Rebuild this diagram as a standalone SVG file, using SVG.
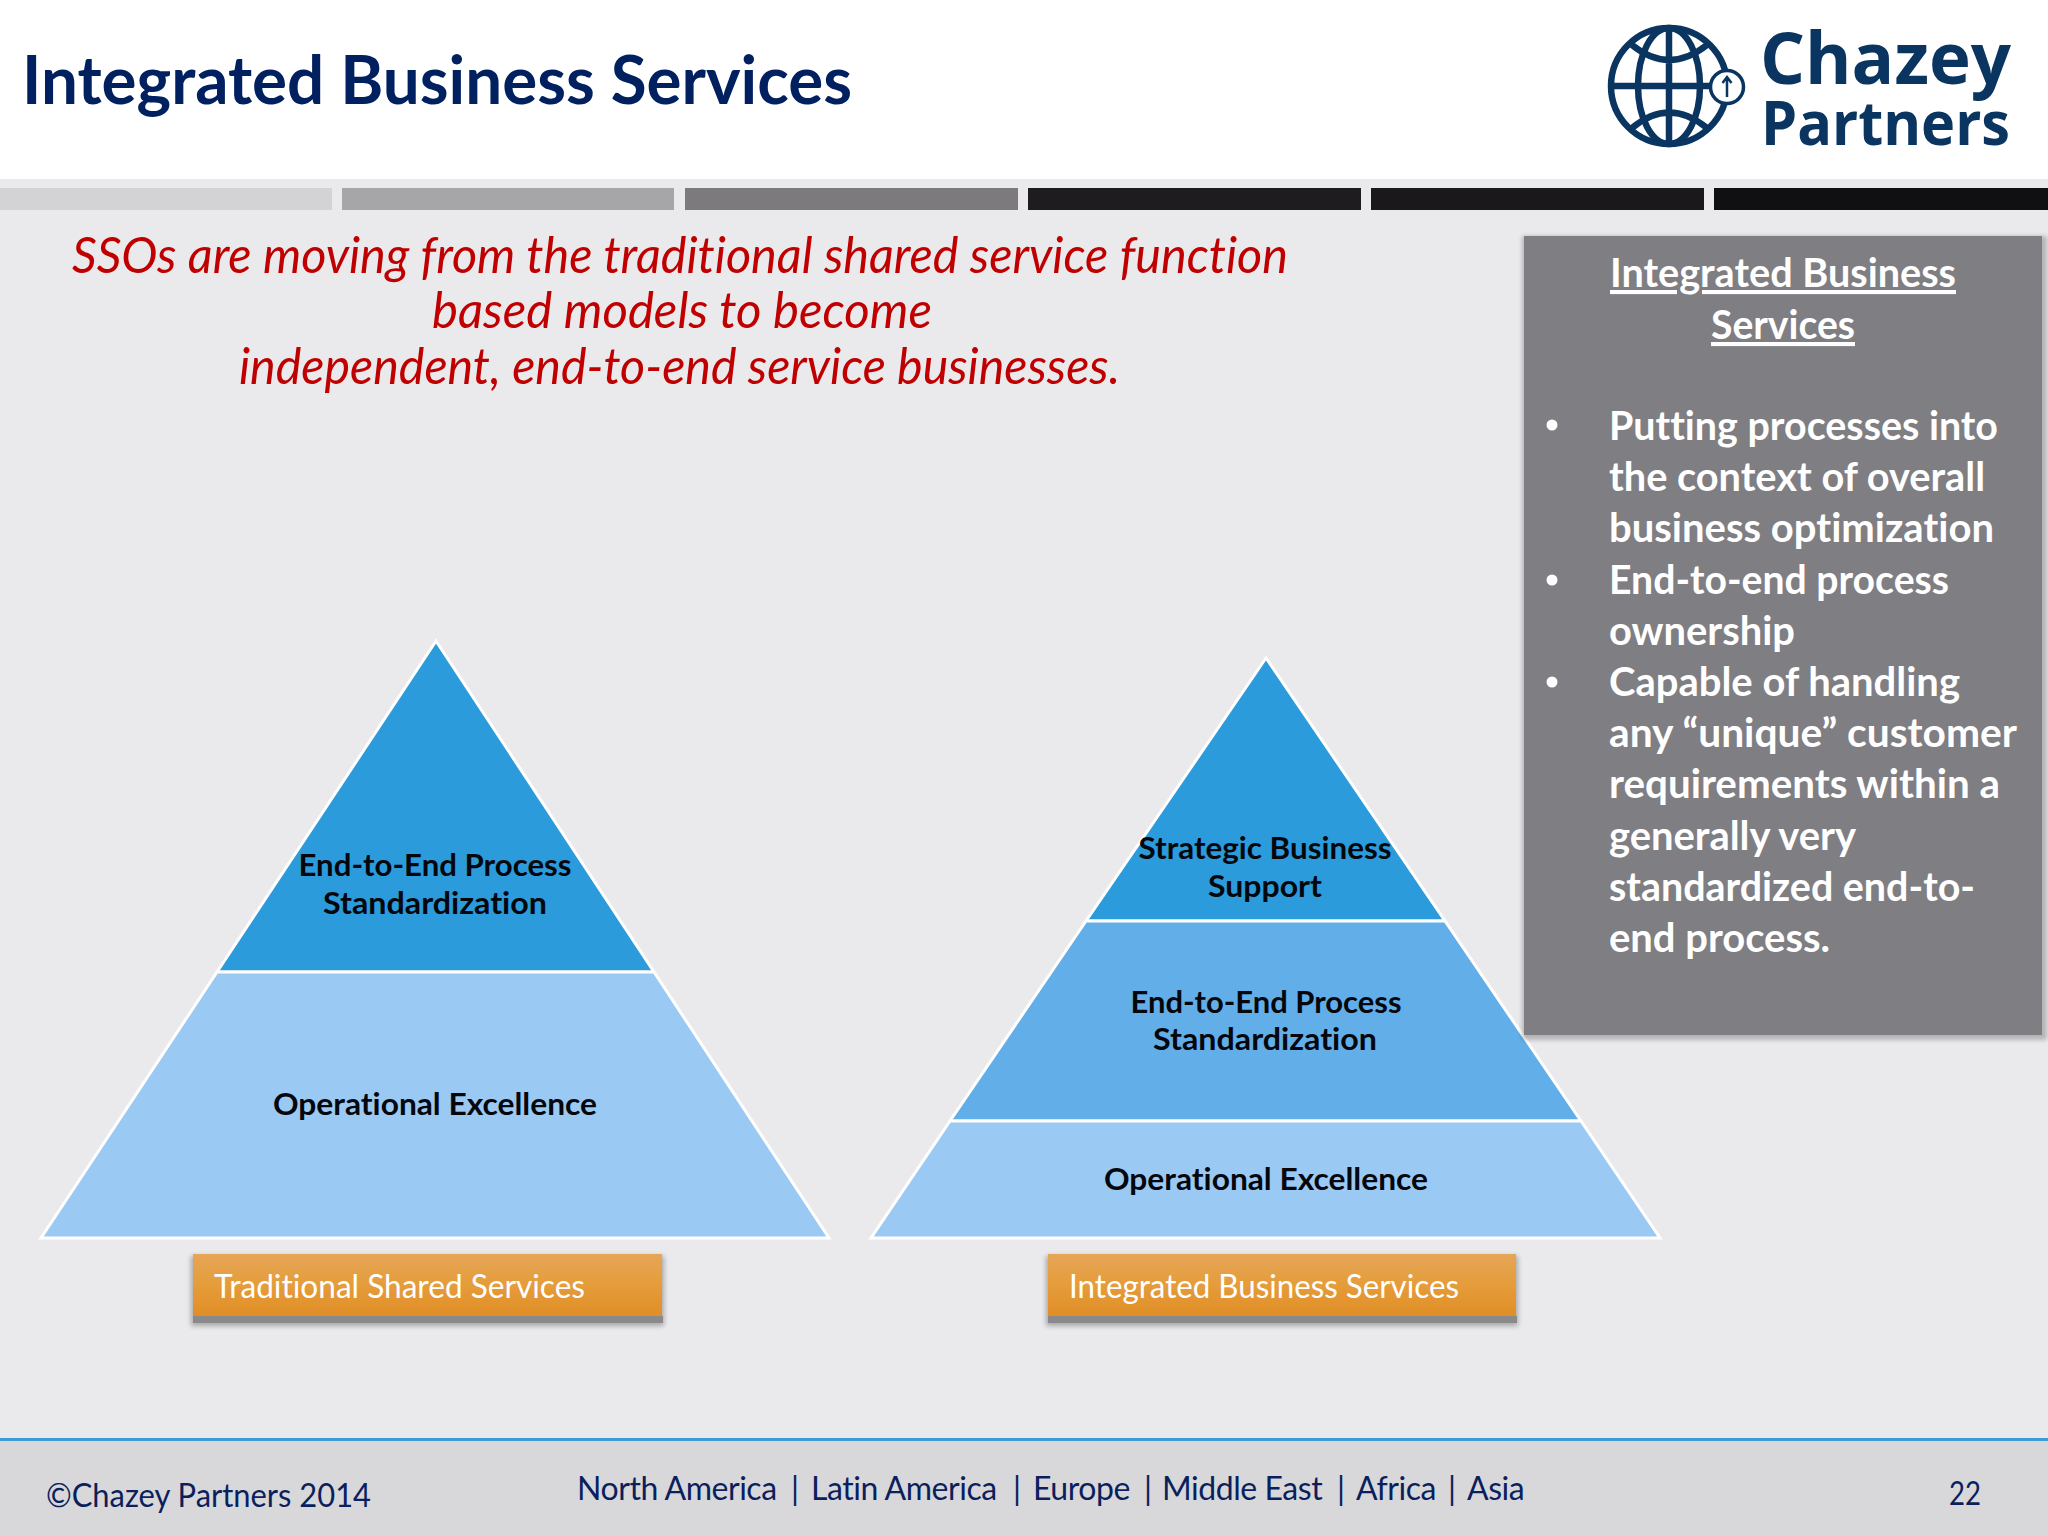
<svg xmlns="http://www.w3.org/2000/svg" width="2048" height="1536" viewBox="0 0 2048 1536">
<defs>
<linearGradient id="btn" x1="0" y1="0" x2="0" y2="1"><stop offset="0" stop-color="#E6A658"/><stop offset="0.5" stop-color="#E59C3A"/><stop offset="1" stop-color="#E08E26"/></linearGradient>
<filter id="blur" x="-5%" y="-20%" width="110%" height="140%"><feGaussianBlur stdDeviation="2.500"/></filter>
<filter id="blur2" x="-5%" y="-5%" width="110%" height="110%"><feGaussianBlur stdDeviation="2"/></filter>
</defs>
<style>
text{font-family:"Lato","Carlito","Liberation Sans",sans-serif;font-variant-ligatures:none}
.layer{stroke:#fff;stroke-width:3;stroke-linejoin:miter}
.t1{fill:#2B9BDB}.t2{fill:#62AEE8}.t3{fill:#9AC9F4}
.lab{font-size:31px;font-weight:700;fill:#05070d;text-anchor:middle}
.sub{font-size:51px;font-style:italic;fill:#C00000}
.pan{font-size:41px;font-weight:700;fill:#fff}
.btxt{font-size:33px;fill:#fff}
.foot{font-size:33px;fill:#0B1F5C}
.regions{font-size:32px;letter-spacing:-.45px}
.logo{font-family:"Open Sans","Liberation Sans",sans-serif;font-weight:700;fill:#0A3560}
.g{fill:none;stroke:#0A3560;stroke-width:6.5}
</style>
<rect width="2048" height="1536" fill="#EAEAEC"/>
<g id="header">
<rect width="2048" height="179" fill="#fff"/>
<text x="22" y="104" font-size="66" font-weight="700" fill="#002060" textLength="830" lengthAdjust="spacingAndGlyphs">Integrated Business Services</text>
</g>
<g id="logo">
<circle class="g" cx="1669" cy="86" r="58"/>
<ellipse class="g" cx="1669" cy="86" rx="31" ry="58"/>
<path class="g" d="M1669 28V144M1611 86H1710M1632 45Q1669 75 1707 45M1632 128Q1669 97 1707 128"/>
<circle cx="1727" cy="87" r="16.500" fill="#fff" stroke="#0A3560" stroke-width="3.500"/>
<path d="M1727 97V78M1722.500 83L1727 77L1731.500 83" fill="none" stroke="#0A3560" stroke-width="2.500"/>
<text class="logo" x="1760" y="84" font-size="72" textLength="251" lengthAdjust="spacingAndGlyphs">Chazey</text>
<text class="logo" x="1761" y="145" font-size="60" textLength="249" lengthAdjust="spacingAndGlyphs">Partners</text>
</g>
<g id="bars">
<rect x="0" y="188" width="332" height="22" fill="#D3D3D5"/>
<rect x="342" y="188" width="332" height="22" fill="#A6A5A7"/>
<rect x="685" y="188" width="333" height="22" fill="#7C7A7D"/>
<rect x="1028" y="188" width="333" height="22" fill="#1E1C1F"/>
<rect x="1371" y="188" width="333" height="22" fill="#1A181B"/>
<rect x="1714" y="188" width="334" height="22" fill="#100F12"/>
</g>
<g id="subtitle">
<text class="sub" x="72" y="273" textLength="1216" lengthAdjust="spacingAndGlyphs">SSOs are moving from the traditional shared service function</text>
<text class="sub" x="432" y="328" textLength="500" lengthAdjust="spacingAndGlyphs">based models to become</text>
<text class="sub" x="239" y="384" textLength="881" lengthAdjust="spacingAndGlyphs">independent, end-to-end service businesses.</text>
</g>
<g id="pyramid-traditional">
<g id="trad-top"><polygon class="layer t1" points="436,641 217,972 654,972"/>
<text class="lab" x="435" y="876" textLength="273" lengthAdjust="spacingAndGlyphs">End-to-End Process</text>
<text class="lab" x="435" y="914" textLength="224" lengthAdjust="spacingAndGlyphs">Standardization</text></g>
<g id="trad-base"><polygon class="layer t3" points="217,972 654,972 829,1238 41,1238"/>
<text class="lab" x="435" y="1115" textLength="324" lengthAdjust="spacingAndGlyphs">Operational Excellence</text></g>
</g>
<g id="pyramid-integrated">
<g id="int-top"><polygon class="layer t1" points="1266,658 1086,921 1445,921"/>
<text class="lab" x="1265" y="859" textLength="253" lengthAdjust="spacingAndGlyphs">Strategic Business</text>
<text class="lab" x="1265" y="897" textLength="114" lengthAdjust="spacingAndGlyphs">Support</text></g>
<g id="int-mid"><polygon class="layer t2" points="1086,921 1445,921 1581,1121 950,1121"/>
<text class="lab" x="1266" y="1013" textLength="271" lengthAdjust="spacingAndGlyphs">End-to-End Process</text>
<text class="lab" x="1265" y="1050" textLength="224" lengthAdjust="spacingAndGlyphs">Standardization</text></g>
<g id="int-base"><polygon class="layer t3" points="950,1121 1581,1121 1660,1238 871,1238"/>
<text class="lab" x="1266" y="1190" textLength="324" lengthAdjust="spacingAndGlyphs">Operational Excellence</text></g>
</g>
<g id="btn-traditional">
<rect x="191" y="1256" width="473" height="70" fill="#000" opacity=".28" filter="url(#blur)"/>
<rect x="193" y="1316" width="470" height="7" fill="#8A898B"/>
<rect x="193" y="1254" width="469" height="62" fill="url(#btn)"/>
<text class="btxt" x="214" y="1298" textLength="371" lengthAdjust="spacingAndGlyphs">Traditional Shared Services</text>
</g>
<g id="btn-integrated">
<rect x="1046" y="1256" width="472" height="70" fill="#000" opacity=".28" filter="url(#blur)"/>
<rect x="1048" y="1316" width="469" height="7" fill="#8A898B"/>
<rect x="1048" y="1254" width="468" height="62" fill="url(#btn)"/>
<text class="btxt" x="1069" y="1298" textLength="390" lengthAdjust="spacingAndGlyphs">Integrated Business Services</text>
</g>
<g id="panel">
<rect x="1522" y="236" width="525" height="804" fill="#000" opacity=".22" filter="url(#blur2)"/>
<rect x="1524" y="236" width="518" height="799" fill="#7F7E83"/>
<text class="pan" x="1783" y="287" text-anchor="middle" text-decoration="underline" textLength="346" lengthAdjust="spacingAndGlyphs">Integrated Business</text>
<text class="pan" x="1783" y="339" text-anchor="middle" text-decoration="underline" textLength="144" lengthAdjust="spacingAndGlyphs">Services</text>
<circle cx="1552" cy="425" r="5.500" fill="#fff"/><circle cx="1552" cy="580" r="5.500" fill="#fff"/><circle cx="1552" cy="682" r="5.500" fill="#fff"/>
<text class="pan" x="1609" y="440" textLength="389" lengthAdjust="spacingAndGlyphs">Putting processes into</text>
<text class="pan" x="1609" y="491" textLength="376" lengthAdjust="spacingAndGlyphs">the context of overall</text>
<text class="pan" x="1609" y="542" textLength="385" lengthAdjust="spacingAndGlyphs">business optimization</text>
<text class="pan" x="1609" y="594" textLength="340" lengthAdjust="spacingAndGlyphs">End-to-end process</text>
<text class="pan" x="1609" y="645" textLength="186" lengthAdjust="spacingAndGlyphs">ownership</text>
<text class="pan" x="1609" y="696" textLength="351" lengthAdjust="spacingAndGlyphs">Capable of handling</text>
<text class="pan" x="1609" y="747" textLength="408" lengthAdjust="spacingAndGlyphs">any “unique” customer</text>
<text class="pan" x="1609" y="798" textLength="391" lengthAdjust="spacingAndGlyphs">requirements within a</text>
<text class="pan" x="1609" y="850" textLength="247" lengthAdjust="spacingAndGlyphs">generally very</text>
<text class="pan" x="1609" y="901" textLength="366" lengthAdjust="spacingAndGlyphs">standardized end-to-</text>
<text class="pan" x="1609" y="952" textLength="221" lengthAdjust="spacingAndGlyphs">end process.</text>
</g>
<g id="footer">
<rect y="1439" width="2048" height="97" fill="#D8D8DA"/>
<rect y="1438" width="2048" height="3" fill="#3B9BD9"/>
<text class="foot" x="46" y="1507" textLength="325" lengthAdjust="spacingAndGlyphs">©Chazey Partners 2014</text>
<text class="foot regions" y="1500"><tspan x="577">North America</tspan> <tspan x="791">|</tspan> <tspan x="811">Latin America</tspan> <tspan x="1013">|</tspan> <tspan x="1033">Europe</tspan> <tspan x="1144">|</tspan> <tspan x="1162">Middle East</tspan> <tspan x="1337">|</tspan> <tspan x="1356">Africa</tspan> <tspan x="1448">|</tspan> <tspan x="1467">Asia</tspan></text>
<text class="foot" x="1949" y="1505" textLength="32" lengthAdjust="spacingAndGlyphs">22</text>
</g>
</svg>
